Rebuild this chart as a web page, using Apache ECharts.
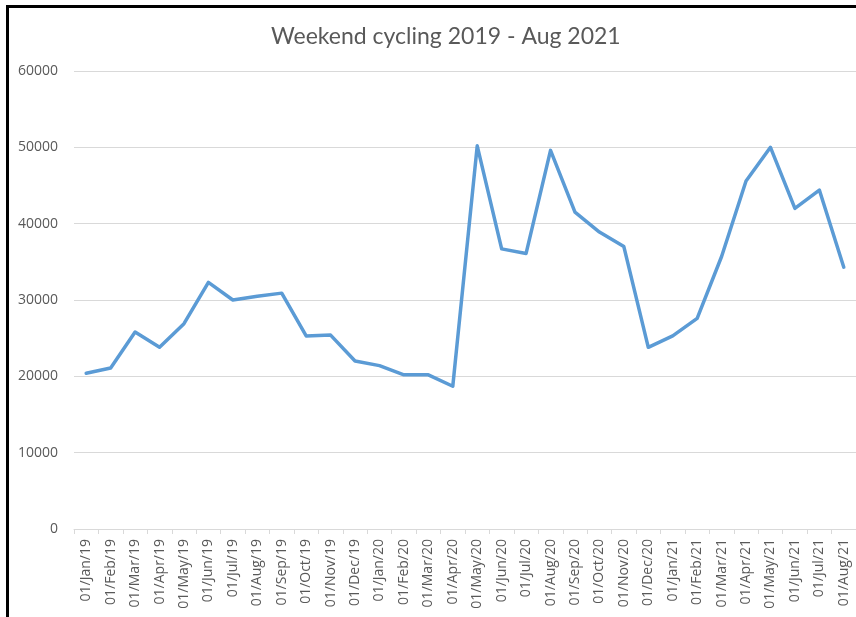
<!DOCTYPE html>
<html>
<head>
<meta charset="utf-8">
<script src="https://cdn.jsdelivr.net/npm/echarts@6/dist/echarts.min.js"></script>
<style>
  html, body { margin: 0; padding: 0; background: #fff; }
  #chart { width: 856px; height: 617px; }
</style>
</head>
<body>
<div id="chart"></div>
<script>
// monthly weekend cycling counts
const months = [
  '01/Jan/19', '01/Feb/19', '01/Mar/19', '01/Apr/19', '01/May/19', '01/Jun/19',
  '01/Jul/19', '01/Aug/19', '01/Sep/19', '01/Oct/19', '01/Nov/19', '01/Dec/19',
  '01/Jan/20', '01/Feb/20', '01/Mar/20', '01/Apr/20', '01/May/20', '01/Jun/20',
  '01/Jul/20', '01/Aug/20', '01/Sep/20', '01/Oct/20', '01/Nov/20', '01/Dec/20',
  '01/Jan/21', '01/Feb/21', '01/Mar/21', '01/Apr/21', '01/May/21', '01/Jun/21',
  '01/Jul/21', '01/Aug/21',
];
const counts = [
  20400, 21100, 25800, 23800, 26900, 32300,
  30000, 30500, 30900, 25300, 25400, 22000,
  21400, 20200, 20200, 18700, 50200, 36700,
  36100, 49600, 41500, 38900, 37000, 23800,
  25300, 27600, 35700, 45600, 50000, 42000,
  44400, 34300,
];

const textColor = '#595959';
const gridColor = '#d9d9d9';

const option = {
  animation: false,
  title: {
    text: 'Weekend cycling 2019 - Aug 2021',
    left: 266,
    top: 20,
    textStyle: {
      fontFamily: 'Lato',
      fontSize: 23,
      fontWeight: 'normal',
      color: textColor,
    },
  },
  grid: {
    left: 74,
    top: 71,
    bottom: 88,
    right: -6,
  },
  xAxis: {
    type: 'category',
    data: months,
    boundaryGap: true,
    axisLine: { lineStyle: { color: gridColor, width: 1 } },
    axisTick: { show: true, length: 5, lineStyle: { color: gridColor } },
    axisLabel: {
      rotate: 90,
      interval: 0,
      margin: 10,
      color: textColor,
      fontFamily: 'Open Sans',
      fontSize: 14,
    },
  },
  yAxis: {
    type: 'value',
    min: 0,
    max: 60000,
    interval: 10000,
    axisLine: { show: false },
    axisTick: { show: false },
    splitLine: { lineStyle: { color: gridColor, width: 1 } },
    axisLabel: {
      margin: 16,
      color: textColor,
      fontFamily: 'Open Sans',
      fontSize: 14,
      formatter: (v) => String(v),
    },
  },
  series: [
    {
      type: 'line',
      data: counts,
      showSymbol: false,
      symbol: 'none',
      lineStyle: { color: '#5b9bd5', width: 3.5, join: 'round', cap: 'round' },
    },
  ],
  graphic: [
    // black frame of the screenshot
    { type: 'rect', shape: { x: 6, y: 5, width: 860, height: 3 }, style: { fill: '#000' } },
    { type: 'rect', shape: { x: 6, y: 5, width: 3, height: 620 }, style: { fill: '#000' } },
  ],
};

const chart = echarts.init(document.getElementById('chart'));
chart.setOption(option);
</script>
</body>
</html>
